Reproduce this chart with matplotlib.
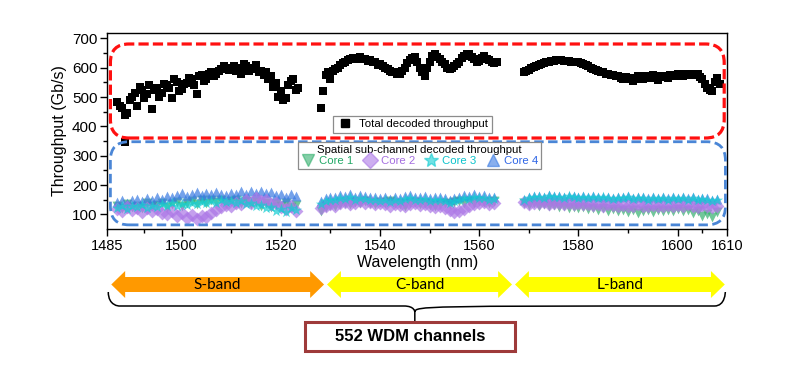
import matplotlib
matplotlib.use("Agg")
import matplotlib.pyplot as plt
from matplotlib.patches import FancyBboxPatch, Polygon, PathPatch, Rectangle
from matplotlib.path import Path
from matplotlib.lines import Line2D

plt.rcParams['font.family'] = ['Liberation Sans', 'DejaVu Sans']

# ---- channel wavelengths (nm), one list per band ----
wl_s = [1487, 1488, 1489, 1490, 1491, 1492, 1493, 1494, 1495, 1496, 1497, 1498, 1499,
        1500, 1501, 1502, 1503, 1504, 1505, 1506, 1507, 1508, 1509, 1510, 1511, 1512,
        1513, 1514, 1515, 1516, 1517, 1518, 1519, 1520, 1521, 1522, 1523]
wl_c = [1528, 1529, 1530, 1531, 1532, 1533, 1534, 1535, 1536, 1537, 1538, 1539, 1540,
        1541, 1542, 1543, 1544, 1545, 1546, 1547, 1548, 1549, 1550, 1551, 1552, 1553,
        1554, 1555, 1556, 1557, 1558, 1559, 1560, 1561, 1562, 1563]
wl_l = [1569, 1570, 1571, 1572, 1573, 1574, 1575, 1576, 1577, 1578, 1579, 1580, 1581,
        1582, 1583, 1584, 1585, 1586, 1587, 1588, 1589, 1590, 1591, 1592, 1593, 1594,
        1595, 1596, 1597, 1598, 1599, 1600, 1601, 1602, 1603, 1604, 1605, 1606, 1607, 1608]
# interleaved channels (half-nm offset)
wl_s2 = [1487.5, 1488.5, 1489.5, 1490.5, 1491.5, 1492.5, 1493.5, 1494.5, 1495.5, 1496.5,
         1497.5, 1498.5, 1499.5, 1500.5, 1501.5, 1502.5, 1503.5, 1504.5, 1505.5, 1506.5,
         1507.5, 1508.5, 1509.5, 1510.5, 1511.5, 1512.5, 1513.5, 1514.5, 1515.5, 1516.5,
         1517.5, 1518.5, 1519.5, 1520.5, 1521.5, 1522.5, 1523.5]
wl_c2 = [1528.5, 1529.5, 1530.5, 1531.5, 1532.5, 1533.5, 1534.5, 1535.5, 1536.5, 1537.5,
         1538.5, 1539.5, 1540.5, 1541.5, 1542.5, 1543.5, 1544.5, 1545.5, 1546.5, 1547.5,
         1548.5, 1549.5, 1550.5, 1551.5, 1552.5, 1553.5, 1554.5, 1555.5, 1556.5, 1557.5,
         1558.5, 1559.5, 1560.5, 1561.5, 1562.5, 1563.5]
wl_l2 = [1569.5, 1570.5, 1571.5, 1572.5, 1573.5, 1574.5, 1575.5, 1576.5, 1577.5, 1578.5,
         1579.5, 1580.5, 1581.5, 1582.5, 1583.5, 1584.5, 1585.5, 1586.5, 1587.5, 1588.5,
         1589.5, 1590.5, 1591.5, 1592.5, 1593.5, 1594.5, 1595.5, 1596.5, 1597.5, 1598.5,
         1599.5, 1600.5, 1601.5, 1602.5, 1603.5, 1604.5, 1605.5, 1606.5, 1607.5, 1608.5]

# ---- total decoded throughput (Gb/s) ----
total_s = [482, 462, 445, 500, 470, 525, 510, 460, 530, 515, 540, 495, 550, 528, 548, 560,
           512, 575, 560, 585, 578, 595, 600, 598, 590, 580, 605, 596, 610, 590, 585, 570,
           548, 520, 498, 555, 525]
total_c = [462, 575, 560, 595, 610, 620, 628, 630, 635, 628, 625, 620, 612, 600, 590, 585,
           580, 600, 625, 635, 600, 572, 620, 645, 630, 612, 595, 605, 618, 640, 648, 628,
           622, 640, 625, 615]
total_l = [585, 592, 602, 610, 615, 620, 624, 626, 624, 622, 620, 618, 614, 605, 596, 590,
           584, 578, 575, 570, 560, 565, 555, 572, 560, 566, 575, 558, 570, 565, 572, 578,
           570, 580, 574, 578, 560, 530, 520, 565]
total_s2 = [470, 440, 490, 515, 535, 495, 540, 525, 500, 545, 530, 560, 520, 545, 565, 540,
            570, 555, 580, 570, 590, 605, 592, 605, 598, 612, 590, 600, 585, 575, 560, 535,
            500, 490, 540, 560, 530]
total_c2 = [520, 585, 590, 600, 615, 625, 632, 628, 630, 622, 618, 610, 605, 595, 585, 578,
            590, 615, 632, 620, 585, 600, 640, 635, 620, 600, 598, 612, 632, 645, 635, 620,
            632, 628, 618, 620]
total_l2 = [590, 598, 606, 612, 618, 622, 625, 625, 623, 621, 619, 616, 610, 600, 592, 587,
            580, 576, 572, 565, 568, 560, 566, 562, 570, 568, 565, 572, 568, 575, 575, 572,
            578, 576, 580, 568, 545, 525, 550, 545]
# outlier channel
extra_wl = [1488.5]
extra_total = [348]

# ---- per-core throughput (Gb/s) ----
core1_s = [128, 120, 135, 125, 130, 122, 138, 128, 132, 140, 126, 135, 142, 130, 138, 145,
           135, 148, 140, 150, 143, 148, 138, 145, 150, 140, 146, 135, 142, 130, 138, 126,
           135, 128, 140, 125, 132]
core2_s = [118, 110, 125, 115, 122, 108, 120, 112, 118, 105, 100, 110, 95, 105, 88, 98,
           85, 96, 92, 105, 115, 125, 132, 128, 140, 135, 148, 140, 155, 145, 150, 135,
           140, 125, 118, 130, 112]
core3_s = [122, 130, 118, 128, 124, 132, 120, 130, 126, 135, 128, 138, 130, 136, 132, 140,
           135, 142, 138, 145, 140, 148, 142, 146, 140, 144, 135, 140, 128, 132, 120, 125,
           112, 118, 108, 122, 115]
core4_s = [142, 150, 138, 148, 152, 145, 155, 150, 158, 152, 162, 158, 165, 172, 162, 168,
           175, 165, 172, 168, 175, 170, 165, 172, 168, 178, 170, 178, 174, 180, 172, 176,
           166, 170, 160, 168, 162]

core1_c = [112, 125, 132, 128, 136, 140, 134, 142, 138, 145, 140, 136, 142, 138, 145, 140,
           134, 130, 138, 142, 136, 140, 132, 128, 135, 140, 136, 142, 145, 138, 144, 140,
           146, 142, 138, 144]
core2_c = [120, 130, 135, 128, 138, 142, 135, 140, 145, 138, 142, 136, 140, 134, 130, 136,
           132, 128, 135, 140, 132, 136, 128, 125, 130, 122, 115, 108, 112, 118, 128, 135,
           138, 142, 136, 140]
core3_c = [135, 145, 150, 148, 155, 152, 158, 150, 156, 152, 148, 150, 145, 148, 142, 150,
           146, 152, 155, 150, 148, 152, 145, 150, 148, 145, 140, 146, 150, 155, 152, 158,
           154, 156, 150, 152]
core4_c = [145, 155, 160, 158, 165, 162, 168, 160, 165, 162, 158, 160, 155, 158, 152, 160,
           156, 162, 165, 160, 158, 162, 155, 160, 158, 155, 150, 156, 160, 165, 162, 168,
           164, 166, 160, 158]

core1_l = [140, 132, 138, 130, 134, 128, 132, 125, 130, 122, 126, 120, 124, 118, 122, 115,
           120, 112, 118, 110, 115, 108, 114, 106, 112, 115, 108, 114, 110, 116, 112, 118,
           110, 114, 106, 110, 96, 100, 92, 108]
core2_l = [142, 136, 140, 138, 142, 136, 140, 138, 135, 140, 136, 138, 134, 136, 132, 135,
           130, 134, 132, 128, 133, 130, 128, 134, 130, 127, 132, 130, 128, 133, 130, 132,
           128, 134, 130, 126, 132, 128, 125, 130]
core3_l = [148, 155, 158, 160, 156, 162, 158, 160, 156, 162, 158, 155, 160, 156, 158, 154,
           158, 155, 152, 156, 154, 158, 152, 156, 155, 150, 156, 152, 155, 150, 154, 152,
           156, 150, 154, 148, 152, 150, 146, 150]
core4_l = [150, 158, 162, 164, 160, 165, 162, 164, 160, 164, 162, 158, 162, 160, 162, 158,
           160, 158, 156, 160, 158, 162, 156, 160, 158, 154, 160, 156, 158, 154, 158, 156,
           160, 154, 158, 152, 156, 154, 150, 152]

core_names = ['Core 1', 'Core 2', 'Core 3', 'Core 4']
core_markers = ['v', 'D', '*', '^']
core_colors = ['#34b06e', '#ac78e6', '#12cdd2', '#3a7be2']
core_text_colors = ['#22a866', '#a46ee0', '#0cc3cc', '#2f66e6']

bands = ['S-band', 'C-band', 'L-band']
band_ranges = [(1485.8, 1528.7), (1529.3, 1566.6), (1567.2, 1609.5)]
band_colors = ['#ff9900', '#ffff00', '#ffff00']

wl_all = wl_s + wl_c + wl_l
total_x = wl_all + wl_s2 + wl_c2 + wl_l2 + extra_wl
total_y = (total_s + total_c + total_l + total_s2 + total_c2 + total_l2 + extra_total)
cores = [core1_s + core1_c + core1_l,
         core2_s + core2_c + core2_l,
         core3_s + core3_c + core3_l,
         core4_s + core4_c + core4_l]

fig = plt.figure(figsize=(8.03, 3.76), dpi=100)
ax = fig.add_axes([107.3 / 803, 1 - 229 / 376, 620 / 803, 196.5 / 376])

# total throughput
ax.scatter(total_x, total_y, marker='s', s=38, color='black', linewidths=0, zorder=3)

# spatial sub-channels, drawn core 1, core 4, core 2, core 3
for i in [0, 3, 1, 2]:
    ms = 72 if core_markers[i] == '*' else 50
    ax.scatter(wl_all, cores[i], marker=core_markers[i], s=ms, color=core_colors[i],
               alpha=0.7, linewidths=0, zorder=2)

ax.set_xlim(1485, 1610)
ax.set_ylim(50, 720)
ax.set_xticks([1485, 1500, 1520, 1540, 1560, 1580, 1600, 1610])
ax.set_xticks([1492.5, 1510, 1530, 1550, 1570, 1590, 1605], minor=True)
ax.set_yticks([100, 200, 300, 400, 500, 600, 700])
ax.set_yticks([150, 250, 350, 450, 550, 650], minor=True)
ax.tick_params(which='major', direction='out', length=5, width=1, labelsize=10.5, pad=2)
ax.tick_params(axis='y', which='major', labelsize=11)
ax.tick_params(which='minor', direction='out', length=3, width=1)
ax.set_xlabel('Wavelength (nm)', fontsize=11.5, labelpad=2)
ax.set_ylabel('Throughput (Gb/s)', fontsize=11.5, labelpad=4)
for sp in ax.spines.values():
    sp.set_linewidth(1)

# rounded dashed frames (axes coordinates, corrected for aspect)
asp = (620 / 196.5)
red_box = FancyBboxPatch((0.005, 0.463), 0.99, 0.4785,
                         boxstyle='round,pad=0,rounding_size=0.03',
                         mutation_aspect=asp, transform=ax.transAxes,
                         fill=False, edgecolor='#ff1010', linewidth=2.3,
                         linestyle=(0, (3.2, 1.3)), zorder=4)
blue_box = FancyBboxPatch((0.005, 0.021), 0.992, 0.423,
                          boxstyle='round,pad=0,rounding_size=0.03',
                          mutation_aspect=asp, transform=ax.transAxes,
                          fill=False, edgecolor='#4a86d6', linewidth=2.0,
                          linestyle=(0, (3.4, 1.6)), zorder=4)
ax.add_patch(red_box)
ax.add_patch(blue_box)

# legends
h1 = [Line2D([], [], marker='s', ls='', color='black', markersize=6)]
leg1 = ax.legend(h1, ['Total decoded throughput'], loc='lower left',
                 bbox_to_anchor=(0.364, 0.49), borderaxespad=0, fancybox=False,
                 edgecolor='#8c8c8c', framealpha=1, fontsize=8.2,
                 handletextpad=0.5, borderpad=0.3, handlelength=1.5)
leg1.get_frame().set_linewidth(0.9)
ax.add_artist(leg1)

h2 = [Line2D([], [], marker=core_markers[i], ls='', color=core_colors[i], alpha=0.6,
             markersize=10 if core_markers[i] == '*' else 8) for i in range(4)]
leg2 = ax.legend(h2, core_names, loc='upper left', bbox_to_anchor=(0.3076, 0.4427),
                 borderaxespad=0, ncol=4, fancybox=False, edgecolor='#8c8c8c',
                 framealpha=1, fontsize=8.2, title='Spatial sub-channel decoded throughput',
                 title_fontsize=8.2, handletextpad=0.3, columnspacing=0.8,
                 handlelength=1.3, borderpad=0.25, labelspacing=0.2,
                 labelcolor=core_text_colors)
leg2.get_frame().set_linewidth(0.9)
leg2._legend_box.sep = 1

# ---- band annotation below the axes (x in nm, y in pixel rows) ----
axb = fig.add_axes([107.3 / 803, 0, 620 / 803, (376 - 229) / 376])
axb.set_xlim(1485, 1610)
axb.set_ylim(376, 229)
axb.axis('off')

yc, body, head, hl = 284.5, 7.5, 13.5, 2.8
for name, (x0, x1), col in zip(bands, band_ranges, band_colors):
    pts = [(x0, yc), (x0 + hl, yc - head), (x0 + hl, yc - body), (x1 - hl, yc - body),
           (x1 - hl, yc - head), (x1, yc), (x1 - hl, yc + head), (x1 - hl, yc + body),
           (x0 + hl, yc + body), (x0 + hl, yc + head)]
    axb.add_patch(Polygon(pts, closed=True, facecolor=col, edgecolor='none'))
    axb.text((x0 + x1) / 2, yc + 0.5, name, ha='center', va='center', fontsize=11,
             family=['Lato', 'DejaVu Sans'])

# curly brace spanning all bands
xl, xr, xm = 1485.2, 1609.6, 1547.0
yt, yh, yp, ys = 292, 306, 312, 321
verts = [(xl, yt), (xl, yh), (xl + 2.2, yh), (xl + 2.2, yh),
         (xm - 2.2, yh),
         (xm, yh), (xm, yp), (xm, yp),
         (xm, ys),
         (xm, yp), (xm, yh), (xm + 2.2, yh),
         (xr - 2.2, yh),
         (xr, yh), (xr, yt), (xr, yt)]
codes = [Path.MOVETO, Path.CURVE4, Path.CURVE4, Path.CURVE4,
         Path.LINETO,
         Path.CURVE4, Path.CURVE4, Path.CURVE4,
         Path.LINETO,
         Path.MOVETO, Path.CURVE4, Path.CURVE4,
         Path.LINETO,
         Path.CURVE4, Path.CURVE4, Path.CURVE4]
axb.add_patch(PathPatch(Path(verts, codes), facecolor='none', edgecolor='black', lw=1.1))

axb.add_patch(Rectangle((1524.9, 321.5), 42.3, 29.5, facecolor='white',
                        edgecolor='#9e3a3a', linewidth=2.2))
axb.text(1546.05, 336.5, '552 WDM channels', ha='center', va='center',
         fontsize=12, fontweight='bold')

fig.savefig('out.png', dpi=100)
